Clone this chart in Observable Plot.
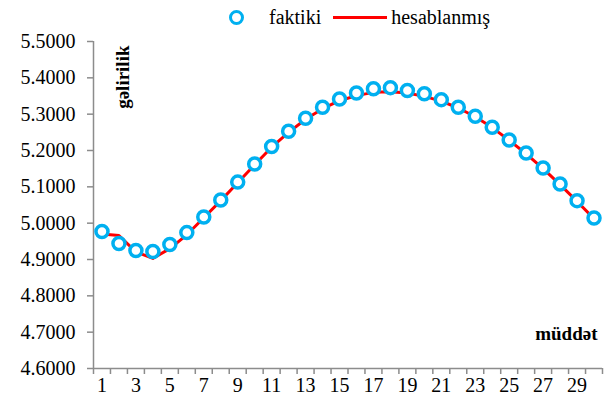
<!DOCTYPE html>
<html>
<head>
<meta charset="utf-8">
<script src="https://cdn.jsdelivr.net/npm/d3@7"></script>
<script src="https://cdn.jsdelivr.net/npm/@observablehq/plot@0.6"></script>
<style>
  body { margin: 0; background: #fff; }
  #wrap { position: relative; width: 605px; height: 404px; font-family: "Times New Roman", Times, "Liberation Serif", "DejaVu Serif", serif; }
  #wrap svg, #wrap svg text { font-family: "Times New Roman", Times, "Liberation Serif", "DejaVu Serif", serif !important; }
  #legend { position: absolute; top: 6px; left: 229px; display: flex; align-items: center; font-size: 20px; color: #000; }
  #legend .dot { width: 9px; height: 9px; border: 3px solid #00B0F0; border-radius: 50%; box-sizing: content-box; margin-right: 25px; }
  #legend .ln { width: 54px; height: 3px; background: #FF0000; margin: 0 4px 0 12px; }
</style>
</head>
<body>
<div id="wrap">
  <div id="chart"></div>
  <div id="legend"><span class="dot"></span><span>faktiki</span><span class="ln"></span><span>hesablanmış</span></div>
</div>
<script>
const periods = d3.range(1, 31);
const actual = [4.977, 4.944, 4.925, 4.922, 4.941, 4.974, 5.017, 5.064, 5.113, 5.163,
                5.211, 5.253, 5.289, 5.319, 5.342, 5.358, 5.370, 5.373, 5.365, 5.356,
                5.340, 5.319, 5.294, 5.264, 5.229, 5.193, 5.152, 5.108, 5.062, 5.014];
const fitted = [4.970, 4.966, 4.921, 4.903, 4.930, 4.968, 5.015, 5.062, 5.111, 5.161,
                5.209, 5.250, 5.286, 5.315, 5.337, 5.351, 5.360, 5.362, 5.358, 5.349,
                5.336, 5.317, 5.293, 5.263, 5.228, 5.191, 5.150, 5.106, 5.060, 5.012];
const yTicks = [4.6, 4.7, 4.8, 4.9, 5.0, 5.1, 5.2, 5.3, 5.4, 5.5];
const xTickLabels = [1, 3, 5, 7, 9, 11, 13, 15, 17, 19, 21, 23, 25, 27, 29];
const yLabel = "gəlirilik";
const xLabel = "müddət";

const data = periods.map((p, i) => ({p, actual: actual[i], fitted: fitted[i]}));
const boundaries = [...periods.map(p => p - 0.5), periods[periods.length - 1] + 0.5];
const axisGray = "#8c8c8c";
const serif = '"Times New Roman", Times, "Liberation Serif", "DejaVu Serif", serif';

const chart = Plot.plot({
  width: 605,
  height: 404,
  marginTop: 41,
  marginBottom: 36,
  marginLeft: 93,
  marginRight: 3,
  style: {fontFamily: serif, fontSize: "20px", color: "#000", background: "#fff"},
  x: {domain: [boundaries[0], boundaries[boundaries.length - 1]]},
  y: {domain: [yTicks[0], yTicks[yTicks.length - 1]]},
  marks: [
    Plot.axisY({ticks: yTicks, tickFormat: d => d.toFixed(4), tickSize: 6, tickPadding: 12, stroke: axisGray, strokeWidth: 1.5, fill: "#000", fontSize: 20, label: null}),
    Plot.axisX({ticks: boundaries, tickFormat: () => "", tickSize: 6, stroke: axisGray, strokeWidth: 1.5, label: null}),
    Plot.axisX({ticks: xTickLabels, tickSize: 0, tickPadding: 9, fill: "#000", fontSize: 20, label: null}),
    Plot.ruleX([boundaries[0]], {stroke: axisGray, strokeWidth: 1.5}),
    Plot.ruleY([yTicks[0]], {stroke: axisGray, strokeWidth: 1.5}),
    Plot.line(data, {x: "p", y: "fitted", stroke: "#FF0000", strokeWidth: 3}),
    Plot.dot(data, {x: "p", y: "actual", r: 6, stroke: "#00B0F0", strokeWidth: 3.5, fill: "#fff"}),
    Plot.text([yLabel], {frameAnchor: "top-left", text: d => d, rotate: -90, textAnchor: "end", dx: 22, dy: 4, fontWeight: "bold", fontSize: 19, fill: "#000"}),
    Plot.text([xLabel], {frameAnchor: "bottom-right", text: d => d, textAnchor: "end", dx: -5, dy: -29, fontWeight: "bold", fontSize: 19, fill: "#000"})
  ]
});
document.getElementById("chart").appendChild(chart);
</script>
</body>
</html>
